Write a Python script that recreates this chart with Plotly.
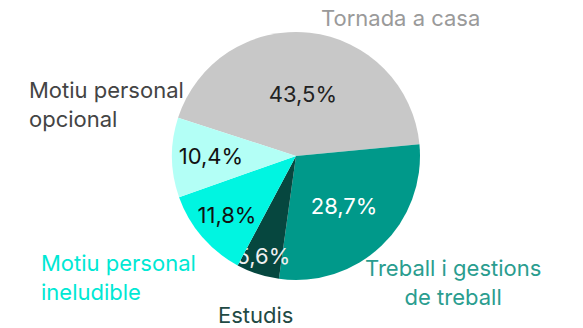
import plotly.graph_objects as go

# Share of trips by purpose (%)
categories = ["Tornada a casa", "Treball i gestions de treball", "Estudis",
              "Motiu personal ineludible", "Motiu personal opcional"]
shares = [43.5, 28.7, 5.6, 11.8, 10.4]

slice_colors = ["#c8c8c8", "#00998a", "#06473f", "#00f5e1", "#b3fff6"]
pct_colors = ["#222222", "#ffffff", "#f0f0f0", "#111111", "#111111"]

W, H = 583, 328
FONT = "Inter, Roboto, sans-serif"
FS = 22

fig = go.Figure(go.Pie(
    labels=categories,
    values=shares,
    sort=False,
    direction="clockwise",
    rotation=-72,
    marker=dict(colors=slice_colors, line=dict(width=0)),
    texttemplate="%{value:.1f}%",
    textposition="inside",
    insidetextorientation="horizontal",
    textfont=dict(family=FONT, size=FS, color=pct_colors),
    hoverinfo="label+percent",
    showlegend=False,
    domain=dict(x=[(296 - 124) / W, (296 + 124) / W],
                y=[(H - 156 - 124) / H, (H - 156 + 124) / H]),
))

# Outer category labels, each in its slice colour
outer = [
    ("Tornada a casa", 400, 18, "#9a9a9a", "center"),
    ("Motiu personal<br>opcional", 27, 105, "#444444", "left"),
    ("Motiu personal<br>ineludible", 39, 277, "#00e8d4", "left"),
    ("Estudis", 255, 315, "#1f4a44", "center"),
    ("Treball i gestions<br>de treball", 453, 282, "#2a9d8f", "center"),
]
anns = []
for txt, px, py, col, al in outer:
    anns.append(dict(
        text=txt, x=px / W, y=1 - py / H, xref="paper", yref="paper",
        xanchor="left" if al == "left" else "center", yanchor="middle",
        align=al, showarrow=False,
        font=dict(family=FONT, size=FS, color=col),
    ))

fig.update_layout(
    width=W, height=H,
    margin=dict(l=0, r=0, t=0, b=0),
    paper_bgcolor="white",
    plot_bgcolor="white",
    separators=",.",
    uniformtext=dict(minsize=FS, mode="show"),
    annotations=anns,
)

fig.write_html("out.html")
